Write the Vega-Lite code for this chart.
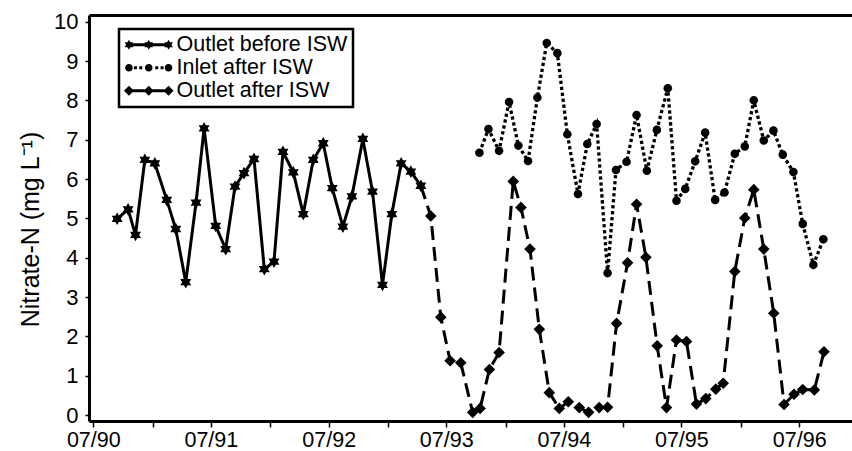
{
  "$schema": "https://vega.github.io/schema/vega-lite/v6.json",
  "width": 763,
  "height": 406,
  "autosize": {"type": "none"},
  "padding": {"left": 89, "top": 15, "right": 0, "bottom": 30},
  "background": "white",
  "config": {
    "view": {"stroke": null},
    "font": "Liberation Sans",
    "axis": {"grid": false, "domainColor": "black", "tickColor": "black", "labelColor": "black", "titleColor": "black", "labelFont": "Liberation Sans", "titleFont": "Liberation Sans"},
    "legend": {"strokeWidth": 2.5, "labelLimit": 0}
  },
  "data": {
    "values": [
      {"date": "1990-09-13", "value": 4.99, "series": "Outlet before ISW"},
      {"date": "1990-10-17", "value": 5.23, "series": "Outlet before ISW"},
      {"date": "1990-11-09", "value": 4.58, "series": "Outlet before ISW"},
      {"date": "1990-12-08", "value": 6.49, "series": "Outlet before ISW"},
      {"date": "1991-01-08", "value": 6.40, "series": "Outlet before ISW"},
      {"date": "1991-02-14", "value": 5.47, "series": "Outlet before ISW"},
      {"date": "1991-03-14", "value": 4.73, "series": "Outlet before ISW"},
      {"date": "1991-04-14", "value": 3.38, "series": "Outlet before ISW"},
      {"date": "1991-05-16", "value": 5.40, "series": "Outlet before ISW"},
      {"date": "1991-06-10", "value": 7.29, "series": "Outlet before ISW"},
      {"date": "1991-07-16", "value": 4.81, "series": "Outlet before ISW"},
      {"date": "1991-08-16", "value": 4.22, "series": "Outlet before ISW"},
      {"date": "1991-09-14", "value": 5.81, "series": "Outlet before ISW"},
      {"date": "1991-10-12", "value": 6.15, "series": "Outlet before ISW"},
      {"date": "1991-11-12", "value": 6.51, "series": "Outlet before ISW"},
      {"date": "1991-12-14", "value": 3.71, "series": "Outlet before ISW"},
      {"date": "1992-01-13", "value": 3.90, "series": "Outlet before ISW"},
      {"date": "1992-02-10", "value": 6.69, "series": "Outlet before ISW"},
      {"date": "1992-03-13", "value": 6.17, "series": "Outlet before ISW"},
      {"date": "1992-04-13", "value": 5.11, "series": "Outlet before ISW"},
      {"date": "1992-05-14", "value": 6.49, "series": "Outlet before ISW"},
      {"date": "1992-06-14", "value": 6.91, "series": "Outlet before ISW"},
      {"date": "1992-07-12", "value": 5.77, "series": "Outlet before ISW"},
      {"date": "1992-08-14", "value": 4.79, "series": "Outlet before ISW"},
      {"date": "1992-09-11", "value": 5.56, "series": "Outlet before ISW"},
      {"date": "1992-10-15", "value": 7.02, "series": "Outlet before ISW"},
      {"date": "1992-11-14", "value": 5.68, "series": "Outlet before ISW"},
      {"date": "1992-12-15", "value": 3.31, "series": "Outlet before ISW"},
      {"date": "1993-01-13", "value": 5.11, "series": "Outlet before ISW"},
      {"date": "1993-02-11", "value": 6.40, "series": "Outlet before ISW"},
      {"date": "1993-03-13", "value": 6.19, "series": "Outlet before ISW"},
      {"date": "1993-04-13", "value": 5.83, "series": "Outlet before ISW"},

      {"date": "1993-10-12", "value": 6.67, "series": "Inlet after ISW"},
      {"date": "1993-11-09", "value": 7.27, "series": "Inlet after ISW"},
      {"date": "1993-12-12", "value": 6.72, "series": "Inlet after ISW"},
      {"date": "1994-01-12", "value": 7.96, "series": "Inlet after ISW"},
      {"date": "1994-02-10", "value": 6.85, "series": "Inlet after ISW"},
      {"date": "1994-03-12", "value": 6.46, "series": "Inlet after ISW"},
      {"date": "1994-04-10", "value": 8.07, "series": "Inlet after ISW"},
      {"date": "1994-05-09", "value": 9.46, "series": "Inlet after ISW"},
      {"date": "1994-06-11", "value": 9.20, "series": "Inlet after ISW"},
      {"date": "1994-07-12", "value": 7.14, "series": "Inlet after ISW"},
      {"date": "1994-08-14", "value": 5.62, "series": "Inlet after ISW"},
      {"date": "1994-09-12", "value": 6.89, "series": "Inlet after ISW"},
      {"date": "1994-10-11", "value": 7.40, "series": "Inlet after ISW"},
      {"date": "1994-11-14", "value": 3.61, "series": "Inlet after ISW"},
      {"date": "1994-12-10", "value": 6.23, "series": "Inlet after ISW"},
      {"date": "1995-01-12", "value": 6.44, "series": "Inlet after ISW"},
      {"date": "1995-02-12", "value": 7.63, "series": "Inlet after ISW"},
      {"date": "1995-03-16", "value": 6.21, "series": "Inlet after ISW"},
      {"date": "1995-04-16", "value": 7.25, "series": "Inlet after ISW"},
      {"date": "1995-05-20", "value": 8.31, "series": "Inlet after ISW"},
      {"date": "1995-06-16", "value": 5.45, "series": "Inlet after ISW"},
      {"date": "1995-07-13", "value": 5.75, "series": "Inlet after ISW"},
      {"date": "1995-08-13", "value": 6.45, "series": "Inlet after ISW"},
      {"date": "1995-09-13", "value": 7.18, "series": "Inlet after ISW"},
      {"date": "1995-10-14", "value": 5.47, "series": "Inlet after ISW"},
      {"date": "1995-11-12", "value": 5.66, "series": "Inlet after ISW"},
      {"date": "1995-12-14", "value": 6.64, "series": "Inlet after ISW"},
      {"date": "1996-01-14", "value": 6.83, "series": "Inlet after ISW"},
      {"date": "1996-02-11", "value": 8.00, "series": "Inlet after ISW"},
      {"date": "1996-03-13", "value": 6.98, "series": "Inlet after ISW"},
      {"date": "1996-04-12", "value": 7.23, "series": "Inlet after ISW"},
      {"date": "1996-05-11", "value": 6.62, "series": "Inlet after ISW"},
      {"date": "1996-06-13", "value": 6.18, "series": "Inlet after ISW"},
      {"date": "1996-07-12", "value": 4.86, "series": "Inlet after ISW"},
      {"date": "1996-08-14", "value": 3.82, "series": "Inlet after ISW"},
      {"date": "1996-09-14", "value": 4.47, "series": "Inlet after ISW"},

      {"date": "1993-05-14", "value": 5.06, "series": "Outlet after ISW"},
      {"date": "1993-06-14", "value": 2.49, "series": "Outlet after ISW"},
      {"date": "1993-07-13", "value": 1.38, "series": "Outlet after ISW"},
      {"date": "1993-08-15", "value": 1.33, "series": "Outlet after ISW"},
      {"date": "1993-09-21", "value": 0.07, "series": "Outlet after ISW"},
      {"date": "1993-10-14", "value": 0.17, "series": "Outlet after ISW"},
      {"date": "1993-11-12", "value": 1.16, "series": "Outlet after ISW"},
      {"date": "1993-12-12", "value": 1.59, "series": "Outlet after ISW"},
      {"date": "1994-01-25", "value": 5.94, "series": "Outlet after ISW"},
      {"date": "1994-02-18", "value": 5.28, "series": "Outlet after ISW"},
      {"date": "1994-03-18", "value": 4.22, "series": "Outlet after ISW"},
      {"date": "1994-04-16", "value": 2.18, "series": "Outlet after ISW"},
      {"date": "1994-05-17", "value": 0.57, "series": "Outlet after ISW"},
      {"date": "1994-06-17", "value": 0.17, "series": "Outlet after ISW"},
      {"date": "1994-07-15", "value": 0.34, "series": "Outlet after ISW"},
      {"date": "1994-08-18", "value": 0.19, "series": "Outlet after ISW"},
      {"date": "1994-09-16", "value": 0.07, "series": "Outlet after ISW"},
      {"date": "1994-10-19", "value": 0.19, "series": "Outlet after ISW"},
      {"date": "1994-11-14", "value": 0.20, "series": "Outlet after ISW"},
      {"date": "1994-12-12", "value": 2.33, "series": "Outlet after ISW"},
      {"date": "1995-01-15", "value": 3.87, "series": "Outlet after ISW"},
      {"date": "1995-02-12", "value": 5.36, "series": "Outlet after ISW"},
      {"date": "1995-03-13", "value": 4.01, "series": "Outlet after ISW"},
      {"date": "1995-04-17", "value": 1.76, "series": "Outlet after ISW"},
      {"date": "1995-05-16", "value": 0.19, "series": "Outlet after ISW"},
      {"date": "1995-06-16", "value": 1.91, "series": "Outlet after ISW"},
      {"date": "1995-07-17", "value": 1.87, "series": "Outlet after ISW"},
      {"date": "1995-08-17", "value": 0.28, "series": "Outlet after ISW"},
      {"date": "1995-09-15", "value": 0.42, "series": "Outlet after ISW"},
      {"date": "1995-10-16", "value": 0.66, "series": "Outlet after ISW"},
      {"date": "1995-11-08", "value": 0.81, "series": "Outlet after ISW"},
      {"date": "1995-12-14", "value": 3.65, "series": "Outlet after ISW"},
      {"date": "1996-01-14", "value": 5.01, "series": "Outlet after ISW"},
      {"date": "1996-02-11", "value": 5.73, "series": "Outlet after ISW"},
      {"date": "1996-03-13", "value": 4.22, "series": "Outlet after ISW"},
      {"date": "1996-04-13", "value": 2.59, "series": "Outlet after ISW"},
      {"date": "1996-05-15", "value": 0.27, "series": "Outlet after ISW"},
      {"date": "1996-06-15", "value": 0.53, "series": "Outlet after ISW"},
      {"date": "1996-07-12", "value": 0.65, "series": "Outlet after ISW"},
      {"date": "1996-08-17", "value": 0.64, "series": "Outlet after ISW"},
      {"date": "1996-09-16", "value": 1.61, "series": "Outlet after ISW"}
    ]
  },
  "encoding": {
    "x": {
      "field": "date", "type": "temporal",
      "scale": {"type": "utc", "nice": false, "domain": [{"year": 1990, "month": 6, "date": 17, "hours": 14, "utc": true}, {"year": 1996, "month": 12, "date": 12, "utc": true}]},
      "axis": null
    },
    "y": {
      "field": "value", "type": "quantitative",
      "scale": {"domain": [-0.15, 10.17], "nice": false, "zero": false},
      "axis": {
        "values": [0, 1, 2, 3, 4, 5, 6, 7, 8, 9, 10],
        "tickSize": 4, "tickWidth": 1.5, "domainWidth": 3,
        "labelFontSize": 22, "labelPadding": 7,
        "title": "Nitrate-N (mg L⁻¹)", "titleFontSize": 25, "titleFontWeight": "normal", "titlePadding": 10, "titleY": 214
      }
    }
  },
  "layer": [
    {
      "transform": [{"filter": {"field": "series", "equal": "Outlet before ISW"}}],
      "mark": {"type": "line", "color": "black", "strokeWidth": 3},
      "encoding": {
        "x": {
          "field": "date", "type": "temporal",
          "scale": {"type": "utc", "nice": false, "domain": [{"year": 1990, "month": 6, "date": 17, "hours": 14, "utc": true}, {"year": 1996, "month": 12, "date": 12, "utc": true}]},
          "axis": {
            "orient": "bottom",
            "values": [
              {"year": 1990, "month": 7, "date": 1, "utc": true}, {"year": 1991, "month": 1, "date": 1, "utc": true},
              {"year": 1991, "month": 7, "date": 1, "utc": true}, {"year": 1992, "month": 1, "date": 1, "utc": true},
              {"year": 1992, "month": 7, "date": 1, "utc": true}, {"year": 1993, "month": 1, "date": 1, "utc": true},
              {"year": 1993, "month": 7, "date": 1, "utc": true}, {"year": 1994, "month": 1, "date": 1, "utc": true},
              {"year": 1994, "month": 7, "date": 1, "utc": true}, {"year": 1995, "month": 1, "date": 1, "utc": true},
              {"year": 1995, "month": 7, "date": 1, "utc": true}, {"year": 1996, "month": 1, "date": 1, "utc": true},
              {"year": 1996, "month": 7, "date": 1, "utc": true}
            ],
            "labelExpr": "utcmonth(datum.value) == 6 ? utcFormat(datum.value, '%m/%y') : ''",
            "labelOverlap": false, "labelFlush": false, "labelBound": false,
            "tickSize": 6, "tickWidth": 1.5, "domainWidth": 3,
            "labelFontSize": 21.5, "labelPadding": 2, "title": null
          }
        }
      }
    },
    {
      "transform": [{"filter": {"field": "series", "equal": "Inlet after ISW"}}],
      "mark": {"type": "line", "color": "black", "strokeWidth": 3.3, "strokeDash": [3.3, 2.7]},
      "encoding": {
        "x": {
          "field": "date", "type": "temporal",
          "scale": {"type": "utc", "nice": false, "domain": [{"year": 1990, "month": 6, "date": 17, "hours": 14, "utc": true}, {"year": 1996, "month": 12, "date": 12, "utc": true}]},
          "axis": {"orient": "top", "labels": false, "ticks": false, "domain": true, "domainWidth": 3, "title": null}
        }
      }
    },
    {
      "transform": [{"filter": {"or": [
        {"field": "series", "equal": "Outlet after ISW"},
        {"and": [{"field": "series", "equal": "Outlet before ISW"}, {"field": "date", "gte": {"year": 1993, "month": 4, "date": 1, "utc": true}}]}
      ]}}],
      "mark": {"type": "line", "color": "black", "strokeWidth": 3, "strokeDash": [14, 7]}
    },
    {
      "mark": {"type": "point", "filled": true, "color": "black", "opacity": 1, "strokeWidth": 0, "size": 196},
      "encoding": {
        "shape": {
          "field": "series", "type": "nominal",
          "scale": {
            "domain": ["Outlet before ISW", "Inlet after ISW", "Outlet after ISW"],
            "range": [
              "M0,-0.9L0.26,-0.45L0.779,-0.45L0.52,0L0.779,0.45L0.26,0.45L0,0.9L-0.26,0.45L-0.779,0.45L-0.52,0L-0.779,-0.45L-0.26,-0.45Z",
              "M-0.614,0A0.614,0.614 0 1,1 0.614,0A0.614,0.614 0 1,1 -0.614,0Z",
              "M0,-0.83L0.83,0L0,0.83L-0.83,0Z"
            ]
          },
          "legend": null
        }
      }
    },
    {
      "transform": [{"filter": {"field": "value", "lt": -100}}],
      "mark": {"type": "point", "filled": true, "color": "black", "opacity": 1, "strokeWidth": 0},
      "encoding": {
        "shape": {
          "field": "series", "type": "nominal",
          "scale": {
            "domain": ["Outlet before ISW", "Inlet after ISW", "Outlet after ISW"],
            "range": [
              "M-5.2,-0.375L5.2,-0.375L5.2,0.375L-5.2,0.375Z M-5.2,-1.3L-4.825,-0.65L-4.074,-0.65L-4.45,0L-4.074,0.65L-4.825,0.65L-5.2,1.3L-5.575,0.65L-6.326,0.65L-5.95,0L-6.326,-0.65L-5.575,-0.65Z M0,-1.3L0.375,-0.65L1.126,-0.65L0.75,0L1.126,0.65L0.375,0.65L0,1.3L-0.375,0.65L-1.126,0.65L-0.75,0L-1.126,-0.65L-0.375,-0.65Z M5.2,-1.3L5.575,-0.65L6.326,-0.65L5.95,0L6.326,0.65L5.575,0.65L5.2,1.3L4.825,0.65L4.074,0.65L4.45,0L4.074,-0.65L4.825,-0.65Z",
              "M-6.2,0A1,1 0 1,1 -4.2,0A1,1 0 1,1 -6.2,0Z M-1,0A1,1 0 1,1 1,0A1,1 0 1,1 -1,0Z M4.2,0A1,1 0 1,1 6.2,0A1,1 0 1,1 4.2,0Z M-3.9,-0.4L-3.1,-0.4L-3.1,0.4L-3.9,0.4Z M-2.5,-0.4L-1.7,-0.4L-1.7,0.4L-2.5,0.4Z M1.7,-0.4L2.5,-0.4L2.5,0.4L1.7,0.4Z M3.1,-0.4L3.9,-0.4L3.9,0.4L3.1,0.4Z",
              "M-5.2,-0.375L5.2,-0.375L5.2,0.375L-5.2,0.375Z M-5.2,-1.3L-3.9,0L-5.2,1.3L-6.5,0Z M0,-1.3L1.3,0L0,1.3L-1.3,0Z M5.2,-1.3L6.5,0L5.2,1.3L3.9,0Z"
            ]
          },
          "legend": {
            "title": null, "orient": "none", "legendX": 30, "legendY": 14,
            "padding": 5, "strokeColor": "black", "fillColor": "white",
            "labelFontSize": 21.5, "labelColor": "black", "labelFont": "Liberation Sans", "labelOffset": 17,
            "symbolSize": 58, "symbolOffset": 14, "rowPadding": 0,
            "symbolFillColor": "black", "symbolStrokeColor": "transparent", "symbolStrokeWidth": 0, "symbolOpacity": 1
          }
        }
      }
    }
  ],
  "resolve": {"axis": {"x": "independent"}, "scale": {"shape": "independent"}}
}
